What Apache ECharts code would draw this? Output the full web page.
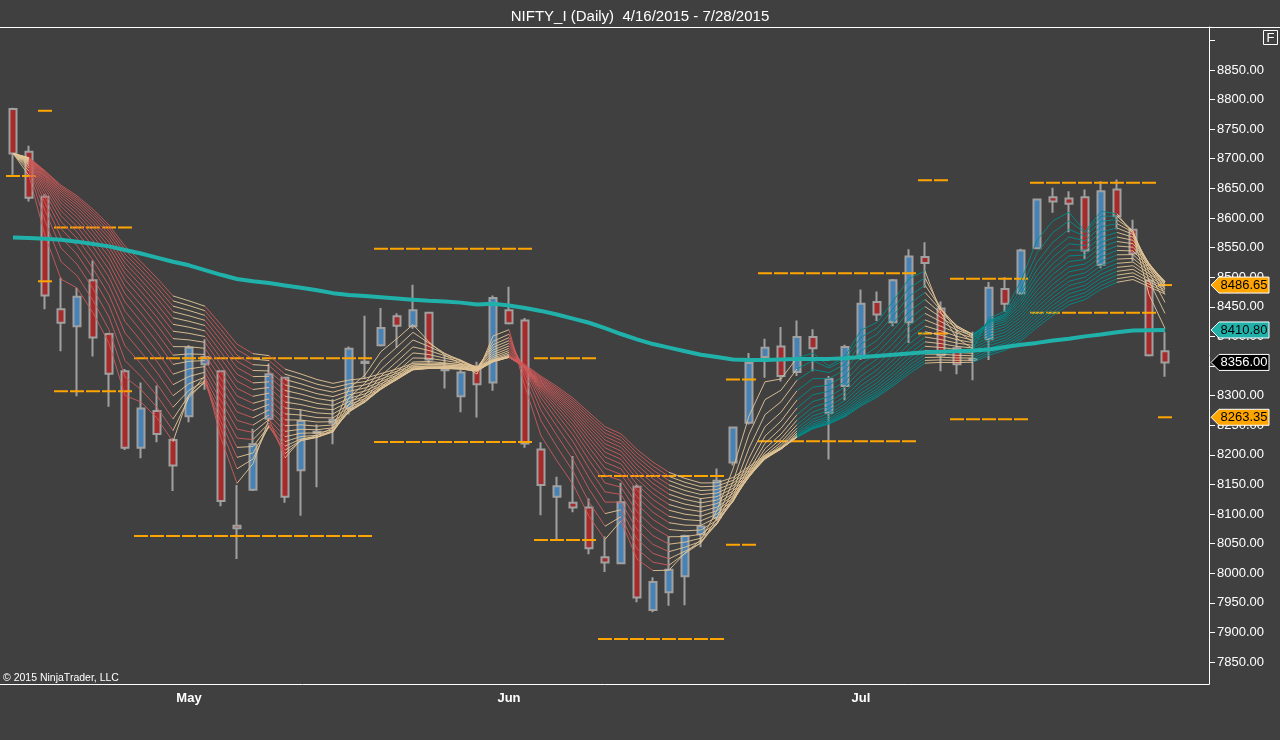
<!DOCTYPE html>
<html>
<head>
<meta charset="utf-8">
<title>NIFTY_I (Daily)</title>
<script src="https://cdn.jsdelivr.net/npm/echarts@6/dist/echarts.min.js"></script>
<style>
    html, body { margin: 0; padding: 0; background: #404040; }
    #chart { width: 1280px; height: 740px; }
</style>
</head>
<body>
<div id="chart"></div>
<script>
// trading days
var dates = [
    '2015-04-16','2015-04-17','2015-04-20','2015-04-21','2015-04-22','2015-04-23','2015-04-24','2015-04-27','2015-04-28','2015-04-29','2015-04-30',
    '2015-05-04','2015-05-05','2015-05-06','2015-05-07','2015-05-08','2015-05-11','2015-05-12','2015-05-13','2015-05-14','2015-05-15',
    '2015-05-18','2015-05-19','2015-05-20','2015-05-21','2015-05-22','2015-05-25','2015-05-26','2015-05-27','2015-05-28','2015-05-29',
    '2015-06-01','2015-06-02','2015-06-03','2015-06-04','2015-06-05','2015-06-08','2015-06-09','2015-06-10','2015-06-11','2015-06-12',
    '2015-06-15','2015-06-16','2015-06-17','2015-06-18','2015-06-19','2015-06-22','2015-06-23','2015-06-24','2015-06-25','2015-06-26',
    '2015-06-29','2015-06-30',
    '2015-07-01','2015-07-02','2015-07-03','2015-07-06','2015-07-07','2015-07-08','2015-07-09','2015-07-10','2015-07-13','2015-07-14',
    '2015-07-15','2015-07-16','2015-07-17','2015-07-20','2015-07-21','2015-07-22','2015-07-23','2015-07-24','2015-07-27','2015-07-28'
];
var opens = [8784,8712,8636,8446,8417,8495,8404,8341,8212,8274,8225,8265,8353,8341,8080,8141,8261,8330,8174,8237,
    8254,8278,8355,8385,8434,8417,8440,8343,8299,8347,8322,8444,8427,8209,8129,8119,8111,8027,8017,8146,
    7938,7968,7995,8066,8094,8187,8254,8365,8383,8340,8399,8271,8316,8364,8458,8424,8424,8534,8447,8380,
    8360,8395,8480,8473,8549,8635,8633,8635,8521,8648,8580,8494,8375];
var closes = [8709,8634,8469,8423,8467,8398,8337,8212,8278,8235,8182,8381,8365,8122,8076,8218,8336,8129,8257,8239,
    8259,8379,8357,8414,8418,8444,8361,8345,8339,8319,8465,8422,8219,8149,8147,8111,8042,8018,8120,7959,
    7985,8006,8063,8079,8156,8246,8355,8381,8333,8399,8380,8328,8382,8455,8437,8495,8535,8524,8368,8353,
    8362,8482,8455,8545,8631,8628,8624,8545,8645,8603,8540,8368,8356];
var lows = [8673,8628,8446,8375,8299,8366,8281,8208,8194,8221,8139,8255,8310,8113,8024,8139,8257,8119,8097,8145,
    8218,8268,8328,8383,8381,8413,8355,8312,8272,8263,8308,8420,8212,8098,8056,8103,8032,8002,8015,7951,
    7934,7945,7946,8044,8090,8182,8251,8330,8324,8333,8341,8192,8292,8360,8426,8417,8389,8482,8341,8336,
    8326,8360,8441,8470,8547,8609,8576,8531,8515,8581,8527,8366,8332];
var highs = [8786,8722,8640,8499,8482,8528,8406,8345,8322,8317,8228,8385,8395,8343,8149,8244,8354,8332,8277,8251,
    8294,8383,8435,8448,8439,8487,8441,8369,8344,8357,8469,8484,8431,8221,8163,8198,8126,8062,8153,8150,
    7993,8063,8065,8126,8177,8248,8372,8396,8416,8427,8412,8333,8386,8479,8476,8497,8547,8559,8459,8413,
    8408,8492,8500,8548,8632,8651,8645,8648,8662,8665,8597,8497,8407];

// slow moving average (thick line)
var maLine = [8567,8566,8565,8563,8560,8556,8552,8546,8540,8533,8526,
    8520,8512,8504,8497,8493,8490,8486,8482,8478,8473,
    8470,8468,8466,8464,8462,8460,8459,8457,8454,8455,
    8452,8448,8443,8437,8430,8423,8414,8404,8395,8387,
    8381,8375,8369,8365,8361,8360,8360,8361,8362,8362,
    8362,8363,8365,8367,8369,8371,8373,8374,8375,8376,
    8378,8382,8386,8389,8393,8396,8400,8403,8407,8410,8410.5,8410.8];

// ribbon of EMAs, state per bar: r = down, t = neutral, g = up
var ribbonPeriods = [3,4,5,6,7,8,9,10,11,12,13,14,15,16,17,18,19,20];
var ribbonRuns = [['t',2],['r',9],['t',2],['r',3],['t',1],['r',1],['t',14],['r',10],['t',8],['g',8],['t',3],['g',9],['t',3]];

// horizontal levels: bar span, upper and lower price
var levelSpans = [[0,1],[2,2],[3,7],[8,22],[23,32],[33,36],[37,44],[45,46],[47,56],[57,58],[59,63],[64,71],[72,72]];
var levelHigh = [null,8781,8584,8363,8548,8363,8164,8327,8506.5,8663.5,8497.5,8659.5,8486.65];
var levelLow = [8671,8493,8307.5,8063,8221.5,8056,7889,8048,8223,8405,8260,8440,8263.35];

var yTicks = [7850,7900,7950,8000,8050,8100,8150,8200,8250,8300,8350,8400,8450,8500,8550,8600,8650,8700,8750,8800,8850,8900];
var yLabels = yTicks.slice(0, -1);
var monthNames = ['Jan','Feb','Mar','Apr','May','Jun','Jul','Aug','Sep','Oct','Nov','Dec'];

var chart = echarts.init(document.getElementById('chart'));

var n = dates.length;
var categories = dates.concat(['', '']);
var monthStarts = [];
for (var i = 1; i < n; i++) {
    if (dates[i].slice(5, 7) !== dates[i - 1].slice(5, 7)) monthStarts.push(i);
}
var isMonthStart = function (idx) { return monthStarts.indexOf(idx) >= 0; };

var state = [];
ribbonRuns.forEach(function (r) { for (var k = 0; k < r[1]; k++) state.push(r[0]); });

var ribbonColors = ['rgba(205,90,90,0.9)', 'rgba(225,195,150,0.92)', 'rgba(0,140,140,0.9)'];
var ribbonData = [];
ribbonPeriods.forEach(function (p) {
    var a = 2 / (p + 1), prev = closes[0];
    for (var i = 1; i < n; i++) {
        var cur = prev + a * (closes[i] - prev);
        var c = state[i] === 'g' ? 2 : (state[i] === 'r' && cur < prev ? 0 : 1);
        ribbonData.push([i, prev, cur, c]);
        prev = cur;
    }
});

var levelData = [];
levelSpans.forEach(function (s, k) {
    if (levelHigh[k] != null) levelData.push([s[0], s[1], levelHigh[k]]);
    if (levelLow[k] != null) levelData.push([s[0], s[1], levelLow[k]]);
});

var last = n - 1;
var tagData = [
    [last, levelHigh[levelHigh.length - 1], 0],
    [last, maLine[last], 1],
    [last, closes[last], 2],
    [last, levelLow[levelLow.length - 1], 0]
];
var tagFill = ['#ffa500', '#20b2aa', '#000000'];
var tagText = ['#000000', '#000000', '#ffffff'];

var option = {
    backgroundColor: '#404040',
    animation: false,
    title: {
        text: 'NIFTY_I (Daily)  4/16/2015 - 7/28/2015',
        left: 'center',
        top: 4,
        textStyle: { color: '#ffffff', fontSize: 15, fontWeight: 'normal', fontFamily: 'Arial' }
    },
    graphic: [
        { type: 'line', shape: { x1: 0, y1: 27.5, x2: 1280, y2: 27.5 }, style: { stroke: '#ffffff', lineWidth: 1 } },
        { type: 'line', shape: { x1: 0, y1: 684.5, x2: 1209.5, y2: 684.5 }, style: { stroke: '#ffffff', lineWidth: 1 } },
        { type: 'rect', shape: { x: 1263.5, y: 30.5, width: 14, height: 14 }, style: { fill: 'none', stroke: '#ffffff', lineWidth: 1 } },
        { type: 'text', x: 1270.5, y: 38, style: { text: 'F', fill: '#ffffff', font: '13px Arial', align: 'center', verticalAlign: 'middle' } },
        { type: 'text', x: 3, y: 678, style: { text: '\u00a9 2015 NinjaTrader, LLC', fill: '#ffffff', font: '10.5px Arial', verticalAlign: 'middle' } }
    ],
    grid: { left: 5, right: 75, top: 27, bottom: 56 },
    xAxis: {
        type: 'category',
        data: categories,
        boundaryGap: true,
        axisLine: { show: false, onZero: false },
        axisTick: { alignWithLabel: true, interval: isMonthStart, length: 6, lineStyle: { color: '#ffffff' } },
        axisLabel: {
            interval: isMonthStart,
            color: '#ffffff',
            fontWeight: 'bold',
            fontSize: 13,
            fontFamily: 'Arial',
            margin: 8,
            formatter: function (v) { return v ? monthNames[+v.slice(5, 7) - 1] : ''; }
        },
        splitLine: { show: false }
    },
    yAxis: {
        type: 'value',
        position: 'right',
        offset: 4,
        min: 7812.9,
        max: 8922.5,
        axisLine: { show: true, lineStyle: { color: '#ffffff', width: 1 } },
        axisTick: { show: true, length: 6, customValues: yTicks, lineStyle: { color: '#ffffff' } },
        axisLabel: {
            customValues: yLabels,
            color: '#ffffff',
            fontSize: 13,
            fontFamily: 'Arial',
            margin: 8,
            formatter: function (v) { return v.toFixed(2); }
        },
        splitLine: { show: false }
    },
    series: [
        {
            type: 'candlestick',
            data: dates.map(function (d, i) { return [opens[i], closes[i], lows[i], highs[i]]; }),
            barWidth: 7,
            itemStyle: {
                color: '#4682b4',
                color0: '#a52a2a',
                borderColor: '#a0a0a0',
                borderColor0: '#a0a0a0',
                borderColorDoji: '#a0a0a0',
                borderWidth: 2
            },
            z: 2
        },
        {
            type: 'custom',
            data: levelData,
            encode: { x: [0, 1], y: 2 },
            renderItem: function (params, api) {
                var a = api.coord([api.value(0), api.value(2)]);
                var b = api.coord([api.value(1), api.value(2)]);
                var bw = api.size([1, 0])[0];
                return {
                    type: 'line',
                    shape: { x1: a[0] - bw / 2 + 1, y1: a[1], x2: b[0] + bw / 2 - 1, y2: b[1] },
                    style: { stroke: '#ffa500', lineWidth: 2, lineDash: [14, 2] }
                };
            },
            z: 3
        },
        {
            type: 'custom',
            data: ribbonData,
            encode: { x: 0, y: [1, 2] },
            renderItem: function (params, api) {
                var i = api.value(0);
                var a = api.coord([i - 1, api.value(1)]);
                var b = api.coord([i, api.value(2)]);
                return {
                    type: 'line',
                    shape: { x1: a[0], y1: a[1], x2: b[0], y2: b[1] },
                    style: { stroke: ribbonColors[api.value(3)], lineWidth: 1 }
                };
            },
            z: 4
        },
        {
            type: 'line',
            data: maLine,
            showSymbol: false,
            lineStyle: { color: '#20b2aa', width: 4 },
            z: 5
        },
        {
            type: 'custom',
            data: tagData,
            encode: { x: 0, y: 1 },
            clip: false,
            renderItem: function (params, api) {
                var cs = params.coordSys;
                var y = api.coord([api.value(0), api.value(1)])[1];
                var tip = cs.x + cs.width + 6;
                var kind = api.value(2);
                return {
                    type: 'group',
                    children: [
                        {
                            type: 'polygon',
                            shape: { points: [[tip, y], [tip + 8, y - 8], [tip + 58, y - 8], [tip + 58, y + 8], [tip + 8, y + 8]] },
                            style: { fill: tagFill[kind], stroke: '#ffffff', lineWidth: 1 }
                        },
                        {
                            type: 'text',
                            style: {
                                text: api.value(1).toFixed(2),
                                x: tip + 33, y: y,
                                align: 'center', verticalAlign: 'middle',
                                fill: tagText[kind], font: '13px Arial'
                            }
                        }
                    ]
                };
            },
            z: 10
        }
    ]
};

chart.setOption(option);
</script>
</body>
</html>
